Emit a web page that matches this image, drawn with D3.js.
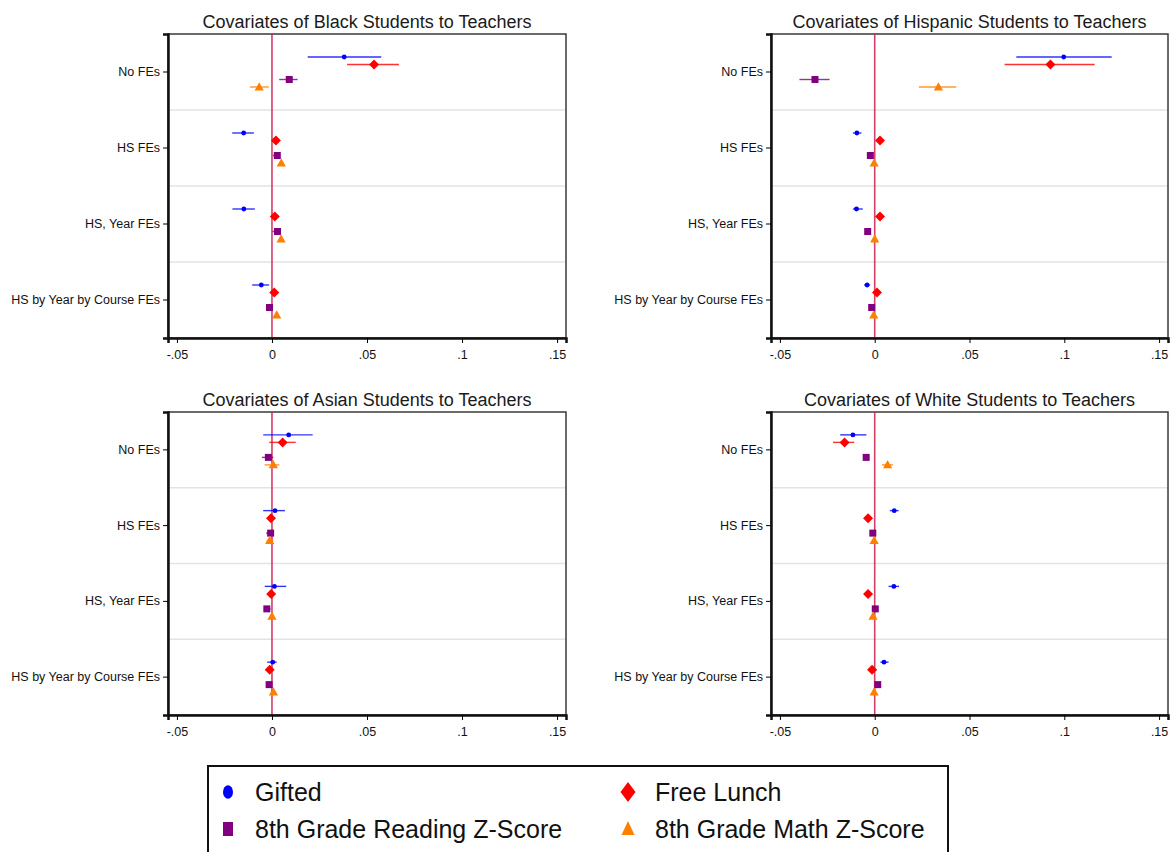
<!DOCTYPE html>
<html>
<head>
<meta charset="utf-8">
<script src="https://cdn.jsdelivr.net/npm/d3@7"></script>
<style>
  body { margin: 0; background: #fff; }
  svg { display: block; font-family: "Liberation Sans", Arial, sans-serif; }
</style>
</head>
<body>
<svg id="chart" width="1172" height="852"></svg>
<script>
  // data
  const models = ["No FEs", "HS FEs", "HS, Year FEs", "HS by Year by Course FEs"];
  const seriesNames = ["Gifted", "Free Lunch", "8th Grade Reading Z-Score", "8th Grade Math Z-Score"];
  const seriesColors = ["#0000ff", "#ff0000", "#800080", "#ff8000"];
  const xTicks = [-0.05, 0, 0.05, 0.1, 0.15];
  const xTickLabels = ["-.05", "0", ".05", ".1", ".15"];
  const titles = [
    "Covariates of Black Students to Teachers",
    "Covariates of Hispanic Students to Teachers",
    "Covariates of Asian Students to Teachers",
    "Covariates of White Students to Teachers"
  ];

  // one row per series (Gifted, Free Lunch, Reading, Math), one column per model
  const blackEst = [[0.038, -0.0149, -0.0148, -0.0056], [0.0537, 0.0021, 0.0015, 0.0012], [0.0091, 0.0028, 0.0029, -0.0013], [-0.0067, 0.0049, 0.0048, 0.0025]];
  const blackLo  = [[0.0188, -0.0209, -0.0208, -0.0104], [0.0395, 0.0008, 0.0003, 0.0001], [0.0038, 0.0005, 0.0003, -0.0022], [-0.0116, 0.0038, 0.0038, 0.0016]];
  const blackHi  = [[0.0575, -0.0095, -0.009, -0.0015], [0.0668, 0.0034, 0.0027, 0.0023], [0.0135, 0.0041, 0.0045, -0.0004], [-0.0016, 0.006, 0.0058, 0.0034]];

  const hispEst = [[0.0997, -0.0094, -0.0096, -0.004], [0.0927, 0.0028, 0.0028, 0.0012], [-0.0315, -0.0023, -0.0037, -0.0016], [0.0336, -0.0003, 0.0, -0.0005]];
  const hispLo  = [[0.0747, -0.0115, -0.0115, -0.0056], [0.0685, 0.0018, 0.0018, 0.0002], [-0.0397, -0.0031, -0.0045, -0.0024], [0.0233, -0.0011, -0.0008, -0.0013]];
  const hispHi  = [[0.125, -0.007, -0.0063, -0.0024], [0.116, 0.0038, 0.0038, 0.0022], [-0.0238, -0.0015, -0.0029, -0.0008], [0.043, 0.0005, 0.0008, 0.0003]];

  const asianEst = [[0.0088, 0.0016, 0.0013, 0.0004], [0.0056, -0.0005, -0.0004, -0.0012], [-0.0019, -0.0007, -0.0027, -0.0015], [0.0007, -0.0012, 0.0, 0.0008]];
  const asianLo  = [[-0.0046, -0.0046, -0.0038, -0.0025], [-0.0014, -0.0015, -0.0014, -0.0022], [-0.0053, -0.0031, -0.0042, -0.0028], [-0.0039, -0.0028, -0.0008, 0.0]];
  const asianHi  = [[0.0214, 0.0068, 0.0075, 0.0025], [0.0125, 0.0005, 0.0006, -0.0002], [0.0007, 0.0007, -0.0008, -0.0004], [0.0039, 0.0007, 0.0008, 0.0016]];

  const whiteEst = [[-0.0115, 0.0103, 0.0101, 0.0049], [-0.0159, -0.0035, -0.0035, -0.0014], [-0.0045, -0.001, 0.0003, 0.0016], [0.0068, -0.0003, -0.0009, -0.0003]];
  const whiteLo  = [[-0.0182, 0.008, 0.0073, 0.003], [-0.022, -0.0045, -0.0045, -0.0035], [-0.0058, -0.0016, -0.0003, 0.001], [0.0038, -0.0011, -0.0017, -0.0011]];
  const whiteHi  = [[-0.0044, 0.0126, 0.0128, 0.0073], [-0.0108, -0.0025, -0.0025, 0.001], [-0.0032, -0.0004, 0.0009, 0.0022], [0.0096, 0.0005, -0.0001, 0.0005]];

  const svg = d3.select('#chart');
  const xDomain = [-0.0547, 0.1547];
  const cols = [[168, 566], [771, 1168]];
  const rows = [[34, 338], [412, 715]];
  const seriesOffset = [-15, -7.5, 7.5, 15];
  const font = '"Liberation Sans", Arial, sans-serif';

  const panels = [
    { title: titles[0], est: blackEst, lo: blackLo, hi: blackHi, c: 0, r: 0 },
    { title: titles[1], est: hispEst, lo: hispLo, hi: hispHi, c: 1, r: 0 },
    { title: titles[2], est: asianEst, lo: asianLo, hi: asianHi, c: 0, r: 1 },
    { title: titles[3], est: whiteEst, lo: whiteLo, hi: whiteHi, c: 1, r: 1 }
  ];

  // plot markers
  function marker(i, g, x, y) {
    const c = seriesColors[i];
    if (i == 0) {
      g.append('circle').attr('cx', x).attr('cy', y).attr('r', 2.4).attr('fill', c);
    } else if (i == 1) {
      const a = 5;
      g.append('path').attr('d', `M${x},${y - a}L${x + a},${y}L${x},${y + a}L${x - a},${y}Z`).attr('fill', c);
    } else if (i == 2) {
      const a = 3.5;
      g.append('rect').attr('x', x - a).attr('y', y - a).attr('width', 2 * a).attr('height', 2 * a).attr('fill', c);
    } else {
      const a = 4.6;
      g.append('path').attr('d', `M${x},${y - a * 1.05}L${x + a},${y + a * 0.75}L${x - a},${y + a * 0.75}Z`).attr('fill', c);
    }
  }

  // legend markers (taller than wide, as in the reference)
  function legendMarker(i, g, x, y) {
    const c = seriesColors[i];
    if (i == 0) {
      g.append('ellipse').attr('cx', x).attr('cy', y).attr('rx', 5).attr('ry', 6.8).attr('fill', c);
    } else if (i == 1) {
      g.append('path').attr('d', `M${x},${y - 10}L${x + 7.5},${y}L${x},${y + 10}L${x - 7.5},${y}Z`).attr('fill', c);
    } else if (i == 2) {
      g.append('rect').attr('x', x - 5).attr('y', y - 7).attr('width', 10).attr('height', 14).attr('fill', c);
    } else {
      g.append('path').attr('d', `M${x},${y - 8}L${x + 6.5},${y + 6}L${x - 6.5},${y + 6}Z`).attr('fill', c);
    }
  }

  panels.forEach(function(p) {
    const [x0, x1] = cols[p.c];
    const [y0, y1] = rows[p.r];
    const x = d3.scaleLinear().domain(xDomain).range([x0, x1]);
    const y = d3.scaleBand().domain(models).range([y0, y1]);
    const g = svg.append('g');

    // grid lines between model groups
    g.selectAll('.grid')
      .data(models.slice(1))
      .enter()
      .append('line')
      .attr('x1', x0).attr('x2', x1)
      .attr('y1', d => y(d)).attr('y2', d => y(d))
      .attr('stroke', '#e3e3e3')
      .attr('stroke-width', 1.5);

    // frame
    g.append('rect')
      .attr('x', x0).attr('y', y0)
      .attr('width', x1 - x0).attr('height', y1 - y0)
      .attr('fill', 'none')
      .attr('stroke', '#3a3a3a')
      .attr('stroke-width', 1.5);

    // zero line
    g.append('line')
      .attr('x1', x(0)).attr('x2', x(0))
      .attr('y1', y0).attr('y2', y1)
      .attr('stroke', '#cc1f4f')
      .attr('stroke-width', 1.6)
      .attr('opacity', 0.85);

    // axes
    g.append('g')
      .attr('transform', 'translate(0,' + y1 + ')')
      .call(d3.axisBottom(x).tickValues(xTicks).tickFormat((d, i) => xTickLabels[i]).tickSize(5).tickPadding(7))
      .call(a => a.select('.domain').attr('stroke', '#111').attr('stroke-width', 2.5))
      .call(a => a.selectAll('text').attr('font-size', 12.5).attr('fill', '#111').attr('font-family', font));
    g.append('g')
      .attr('transform', 'translate(' + x0 + ',0)')
      .call(d3.axisLeft(y).tickSize(5).tickPadding(3))
      .call(a => a.select('.domain').attr('stroke', '#111').attr('stroke-width', 2.5))
      .call(a => a.selectAll('text').attr('font-size', 12.5).attr('fill', '#111').attr('font-family', font));

    // estimates with confidence intervals
    p.est.forEach(function(vals, s) {
      const sg = g.append('g');
      vals.forEach(function(v, m) {
        const cy = y(models[m]) + y.bandwidth() / 2 + seriesOffset[s];
        sg.append('line')
          .attr('x1', x(p.lo[s][m])).attr('x2', x(p.hi[s][m]))
          .attr('y1', cy).attr('y2', cy)
          .attr('stroke', seriesColors[s])
          .attr('stroke-width', 1.4)
          .attr('opacity', 0.8);
        marker(s, sg, x(v), cy);
      });
    });

    // title
    g.append('text')
      .attr('x', (x0 + x1) / 2)
      .attr('y', y0 - 6)
      .attr('text-anchor', 'middle')
      .attr('font-size', 18)
      .attr('fill', '#1a1a1a')
      .text(p.title);
  });

  // legend
  const lg = svg.append('g');
  lg.append('rect')
    .attr('x', 208).attr('y', 766)
    .attr('width', 740).attr('height', 100)
    .attr('fill', '#fff')
    .attr('stroke', '#111')
    .attr('stroke-width', 2);
  const legPos = [[228, 792], [628, 792], [228, 829], [628, 829]];
  seriesNames.forEach(function(n, i) {
    legendMarker(i, lg, legPos[i][0], legPos[i][1]);
    lg.append('text')
      .attr('x', legPos[i][0] + 27)
      .attr('y', legPos[i][1] + 9)
      .attr('font-size', 25)
      .attr('fill', '#111')
      .text(n);
  });
</script>
</body>
</html>
